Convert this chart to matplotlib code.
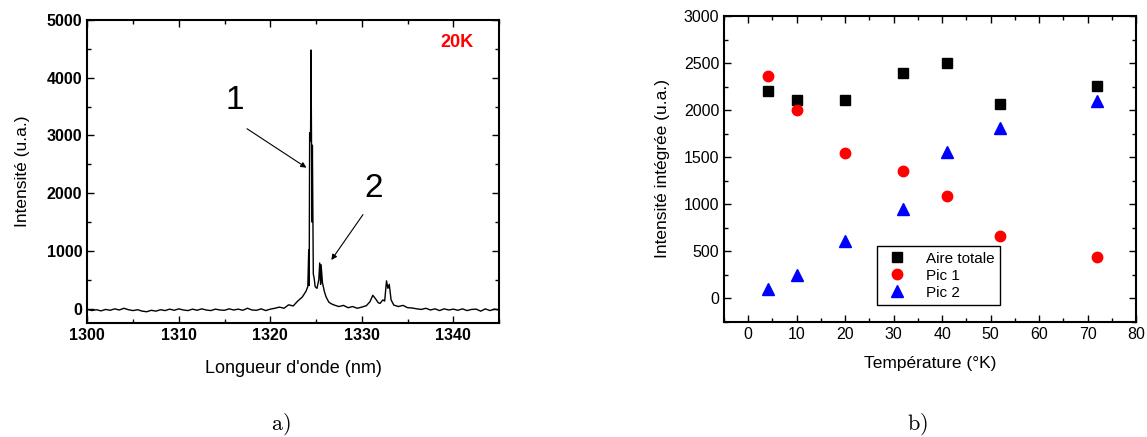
import matplotlib
matplotlib.use("Agg")
from matplotlib import pyplot as plt
from matplotlib.ticker import MultipleLocator

plt.rcParams['font.family'] = ['Liberation Sans', 'DejaVu Sans']
plt.rcParams['mathtext.fontset'] = 'cm'

# spectrum at 20K
wavelength = [1300.0, 1300.5, 1301.0, 1301.5, 1302.0, 1302.5, 1303.0, 1303.5, 1304.0, 1304.5,
              1305.0, 1305.5, 1306.0, 1306.5, 1307.0, 1307.5, 1308.0, 1308.5, 1309.0, 1309.5,
              1310.0, 1310.5, 1311.0, 1311.5, 1312.0, 1312.5, 1313.0, 1313.5, 1314.0, 1314.5,
              1315.0, 1315.5, 1316.0, 1316.5, 1317.0, 1317.5, 1318.0, 1318.5, 1319.0, 1319.5,
              1320.0, 1320.5, 1321.0, 1321.5, 1322.0, 1322.5, 1323.0, 1323.5, 1323.9, 1324.1,
              1324.2, 1324.25, 1324.3, 1324.4, 1324.45, 1324.55, 1324.6, 1324.7, 1324.8, 1324.9,
              1325.1, 1325.3, 1325.4, 1325.5, 1325.55, 1325.7, 1325.9, 1326.1, 1326.4, 1326.7,
              1327.0, 1327.5, 1328.0, 1328.5, 1329.0, 1329.5, 1330.0, 1330.5, 1330.9, 1331.2,
              1331.5, 1331.8, 1332.0, 1332.3, 1332.5, 1332.7, 1332.85, 1333.0, 1333.2, 1333.5,
              1334.0, 1334.5, 1335.0, 1335.5, 1336.0, 1336.5, 1337.0, 1337.5, 1338.0, 1338.5,
              1339.0, 1339.5, 1340.0, 1340.5, 1341.0, 1341.5, 1342.0, 1342.5, 1343.0, 1343.5,
              1344.0, 1344.5, 1345.0]
intensity = [-15, -35, -20, -40, -15, -30, -5, -25, 5, -20,
             -35, -20, -45, -55, -30, -45, -20, -35, -10, -30,
             -5, -25, -35, -10, -30, -5, -25, -35, -10, -25,
             -30, -5, -25, -10, -30, 5, -25, -30, -5, -35,
             -10, 5, 25, 5, 65, 45, 130, 200, 300, 380,
             1020, 400, 3050, 2900, 4480, 1500, 2830, 600, 520, 380,
             350, 500, 790, 420, 760, 450, 300, 200, 110, 80,
             60, 35, 55, 15, 35, 5, 25, 50, 120, 230,
             170, 100, 90, 150, 130, 480, 350, 420, 150, 60,
             35, 55, 15, 10, -5, -15, 5, -25, -5, -35,
             -5, -25, -10, -30, -5, -35, -15, -10, -45, -5,
             -35, -10, -25]

# integrated intensities vs temperature (panel b)
temperature = [4, 10, 20, 32, 41, 52, 72]
aire_totale = [2200, 2110, 2110, 2395, 2505, 2060, 2260]
pic1 = [2360, 2000, 1550, 1350, 1090, 660, 435]
pic2 = [95, 250, 610, 945, 1560, 1810, 2095]

fig = plt.figure(figsize=(11.47, 4.37), dpi=100)
ax1 = fig.add_axes([0.0761, 0.2609, 0.359, 0.6934])
ax2 = fig.add_axes([0.6312, 0.2632, 0.3592, 0.7002])

for ax in (ax1, ax2):
    ax.tick_params(which="both", direction="in", top=True, right=True, labelsize=11.5)
    ax.tick_params(which="major", length=5, width=1)
    ax.tick_params(which="minor", length=3, width=1)
    for s in ax.spines.values():
        s.set_linewidth(1.5)

# a) spectrum
ax1.plot(wavelength, intensity, color="black", lw=1)
ax1.set_xlim(1300, 1345)
ax1.set_ylim(-250, 5000)
ax1.xaxis.set_major_locator(MultipleLocator(10))
ax1.xaxis.set_minor_locator(MultipleLocator(5))
ax1.yaxis.set_major_locator(MultipleLocator(1000))
ax1.yaxis.set_minor_locator(MultipleLocator(500))
for lab in ax1.get_xticklabels() + ax1.get_yticklabels():
    lab.set_fontweight("bold")
ax1.set_xlabel("Longueur d'onde (nm)", fontsize=13, labelpad=12)
ax1.set_ylabel("Intensité (u.a.)", fontsize=12.5, labelpad=12)
ax1.text(1340.4, 4615, "20K", color="red", fontsize=13, fontweight="bold", ha="center", va="center")
ax1.text(1316.1, 3610, "1", fontsize=24, ha="center", va="center")
ax1.text(1331.3, 2085, "2", fontsize=24, ha="center", va="center")
ax1.annotate("", xy=(1324.2, 2414), xytext=(1317.2, 3142),
             arrowprops=dict(arrowstyle="-|>", color="black", lw=0.8, mutation_scale=8))
ax1.annotate("", xy=(1326.5, 802), xytext=(1330.3, 1667),
             arrowprops=dict(arrowstyle="-|>", color="black", lw=0.8, mutation_scale=8))

# b) integrated intensity
ax2.plot(temperature, aire_totale, "s", color="black", ms=7, ls="none", label="Aire totale")
ax2.plot(temperature, pic1, "o", color="#ff0000", ms=7.5, ls="none", label="Pic 1")
ax2.plot(temperature, pic2, "^", color="#0000ff", ms=8, ls="none", label="Pic 2")
ax2.set_xlim(-5, 80)
ax2.set_ylim(-250, 3000)
ax2.xaxis.set_major_locator(MultipleLocator(10))
ax2.xaxis.set_minor_locator(MultipleLocator(5))
ax2.yaxis.set_major_locator(MultipleLocator(500))
ax2.yaxis.set_minor_locator(MultipleLocator(250))
ax2.set_xlabel("Température (°K)", fontsize=12.5, labelpad=10)
ax2.set_ylabel("Intensité intégrée (u.a.)", fontsize=12.5, labelpad=10)
leg = ax2.legend(loc="lower left", bbox_to_anchor=(0.352, 0.03), fontsize=11, fancybox=False,
                 edgecolor="black", framealpha=1, handletextpad=0.9, borderpad=0.35,
                 labelspacing=0.2)
leg.get_frame().set_linewidth(1)

fig.text(0.245, 0.03, r"$\mathrm{a)}$", fontsize=16, ha="center", va="center")
fig.text(0.7995, 0.03, r"$\mathrm{b)}$", fontsize=16, ha="center", va="center")

fig.savefig("out.png", dpi=100)
